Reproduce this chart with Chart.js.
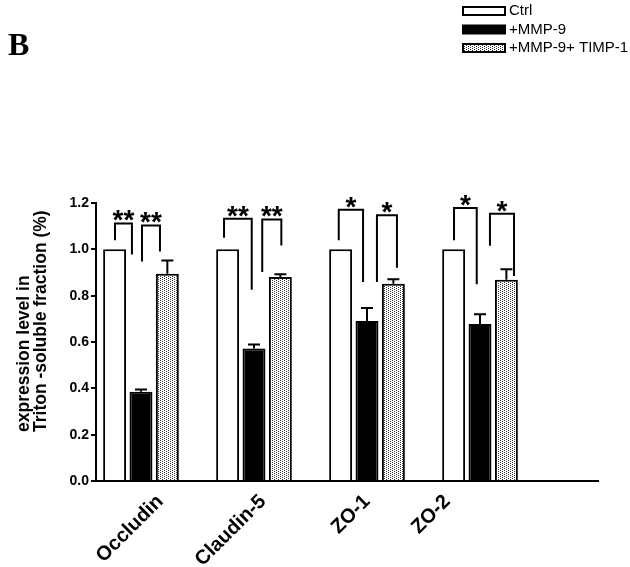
<!DOCTYPE html>
<html>
<head>
<meta charset="utf-8">
<script src="https://cdn.jsdelivr.net/npm/chart.js@4"></script>
<style>
  html, body { margin: 0; padding: 0; background: #fff; }
</style>
</head>
<body>
<canvas id="tjChart" width="630" height="567"></canvas>
<script>
const proteins = ['Occludin', 'Claudin-5', 'ZO-1', 'ZO-2']
const seriesNames = ['Ctrl', '+MMP-9', '+MMP-9+ TIMP-1']
const ctrlValues = [1.0, 1.0, 1.0, 1.0]
const mmpValues = [0.385, 0.572, 0.691, 0.678]
const timpValues = [0.895, 0.881, 0.851, 0.869]
const ctrlErr = [0, 0, 0, 0]
const mmpErr = [0.01, 0.017, 0.056, 0.042]
const timpErr = [0.057, 0.011, 0.02, 0.045]
const yTicks = [0, 0.2, 0.4, 0.6, 0.8, 1.0, 1.2]
const yTitle = ['expression level in', 'Triton -soluble fraction (%)']
// category names are not centred under the groups in the original, x-axis units
const labelAt = [0.17, 1.08, 2.0, 2.71]
// significance brackets: [x from, x to, top, left foot, right foot, stars]
const sigBrackets = [
    [-0.230, -0.080, 1.112, 1.039, 0.978, '**'],
    [0.009, 0.168, 1.103, 0.948, 0.991, '**'],
    [0.735, 0.980, 1.132, 1.050, 0.826, '**'],
    [1.073, 1.242, 1.129, 0.902, 1.017, '**'],
    [1.750, 1.965, 1.171, 1.039, 0.859, '*'],
    [2.088, 2.265, 1.147, 0.859, 0.921, '*'],
    [2.770, 2.971, 1.178, 1.039, 0.849, '*'],
    [3.088, 3.301, 1.154, 1.016, 0.885, '*']
]

const FONT = "'Liberation Sans', Arial, sans-serif"
const X_MIN = -0.398
const X_MAX = 4.044

const ctx = document.getElementById('tjChart').getContext('2d')

function makeDots() {
    const c = document.createElement('canvas')
    c.width = 4
    c.height = 4
    const g = c.getContext('2d')
    g.fillStyle = '#fff'
    g.fillRect(0, 0, 4, 4)
    g.fillStyle = '#333'
    ;[[0, 0], [2, 1], [0, 2], [2, 3]].forEach(p => g.fillRect(p[0], p[1], 1, 1))
    return ctx.createPattern(c, 'repeat')
}

function toPoints(vals) {
    return vals.map((v, i) => ({x: i, y: v}))
}

const dotted = makeDots()
const fills = ['#ffffff', '#000000', dotted]
const errors = [ctrlErr, mmpErr, timpErr]

const datasets = [ctrlValues, mmpValues, timpValues].map((vals, d) => ({
    label: seriesNames[d],
    data: toPoints(vals),
    backgroundColor: fills[d],
    borderColor: '#000',
    borderWidth: 2,
    borderSkipped: 'start',
    categoryPercentage: 0.7,
    barPercentage: 0.87
}))

const extras = {
    id: 'extras',
    afterDatasetsDraw(chart) {
        const c = chart.ctx
        const xs = chart.scales.x
        const ys = chart.scales.y
        c.save()
        c.strokeStyle = '#000'
        c.lineWidth = 2
        // error bars, upper half only
        chart.data.datasets.forEach((ds, d) => {
            const meta = chart.getDatasetMeta(d)
            meta.data.forEach((bar, i) => {
                const e = errors[d][i]
                if (!e) return
                const top = ys.getPixelForValue(ds.data[i].y + e)
                c.beginPath()
                c.moveTo(bar.x, bar.y)
                c.lineTo(bar.x, top)
                c.moveTo(bar.x - 6, top)
                c.lineTo(bar.x + 6, top)
                c.stroke()
            })
        })
        // brackets with stars
        c.fillStyle = '#000'
        c.font = 'bold 28px ' + FONT
        c.textAlign = 'center'
        c.textBaseline = 'alphabetic'
        sigBrackets.forEach(b => {
            const x1 = xs.getPixelForValue(b[0])
            const x2 = xs.getPixelForValue(b[1])
            const top = ys.getPixelForValue(b[2])
            c.beginPath()
            c.moveTo(x1, ys.getPixelForValue(b[3]))
            c.lineTo(x1, top)
            c.lineTo(x2, top)
            c.lineTo(x2, ys.getPixelForValue(b[4]))
            c.stroke()
            c.fillText(b[5], (x1 + x2) / 2, top + 6)
        })
        c.restore()
    },
    afterDraw(chart) {
        const c = chart.ctx
        c.save()
        c.fillStyle = '#000'
        // panel letter
        c.font = "bold 32px 'Liberation Serif', 'Times New Roman', serif"
        c.textAlign = 'left'
        c.textBaseline = 'alphabetic'
        c.fillText('B', 8, 55)
        // y title, two lines
        c.save()
        c.translate(29, 432)
        c.rotate(-Math.PI / 2)
        c.font = 'bold 17.5px ' + FONT
        c.fillText(yTitle[0], 0, 0)
        c.fillText(yTitle[1], 0, 17)
        c.restore()
        // legend
        c.font = '15px ' + FONT
        c.textBaseline = 'middle'
        c.lineWidth = 2
        c.strokeStyle = '#000'
        chart.data.datasets.forEach((ds, d) => {
            const cy = 11 + d * 18.5
            c.fillStyle = ds.backgroundColor
            c.fillRect(463, cy - 4, 42, 8)
            c.strokeRect(463, cy - 4, 42, 8)
            c.fillStyle = '#000'
            c.fillText(ds.label, 509, cy)
        })
        c.restore()
    }
}

new Chart(ctx, {
    type: 'bar',
    data: {datasets: datasets},
    options: {
        responsive: false,
        animation: false,
        layout: {padding: {top: 203, right: 32, left: 0, bottom: 0}},
        plugins: {
            legend: {display: false},
            tooltip: {enabled: false}
        },
        scales: {
            x: {
                type: 'linear',
                min: X_MIN,
                max: X_MAX,
                offset: false,
                grid: {display: false},
                ticks: {display: false},
                border: {color: '#000', width: 2},
                afterBuildTicks: s => { s.ticks = proteins.map((p, i) => ({value: i})) },
                afterFit: s => { s.height = 0 }
            },
            x2: {
                type: 'linear',
                position: 'bottom',
                min: X_MIN,
                max: X_MAX,
                offset: false,
                grid: {display: false},
                border: {display: false},
                afterBuildTicks: s => { s.ticks = labelAt.map(v => ({value: v})) },
                ticks: {
                    autoSkip: false,
                    minRotation: 45,
                    maxRotation: 45,
                    padding: 1,
                    color: '#000',
                    font: {family: FONT, size: 20, weight: 'bold'},
                    callback: (v, i) => proteins[i]
                },
                afterFit: s => { s.height = 86 }
            },
            y: {
                min: 0,
                max: 1.2,
                afterBuildTicks: s => { s.ticks = yTicks.map(v => ({value: v})) },
                ticks: {
                    padding: 2,
                    color: '#000',
                    font: {family: FONT, size: 14, weight: 'bold'},
                    callback: v => v.toFixed(1)
                },
                grid: {drawOnChartArea: false, drawTicks: true, tickLength: 5, color: '#000', lineWidth: 2},
                border: {color: '#000', width: 2},
                afterFit: s => { s.width = 96 }
            }
        }
    },
    plugins: [extras]
})
</script>
</body>
</html>
